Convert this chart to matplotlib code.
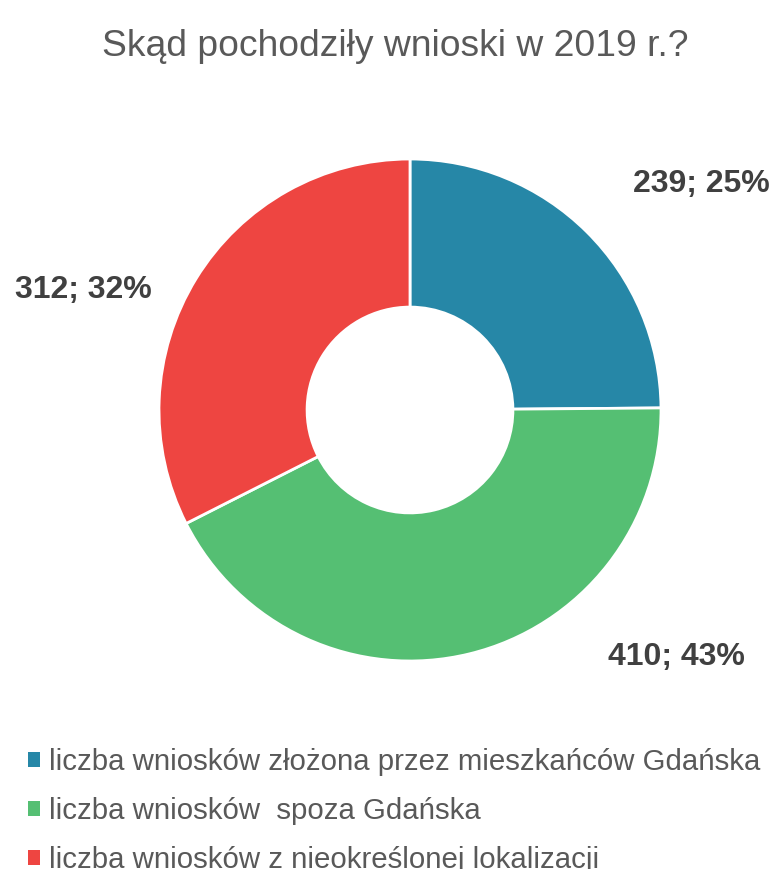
import matplotlib
matplotlib.use("Agg")
import matplotlib.pyplot as plt

plt.rcParams['font.family'] = ['Liberation Sans', 'DejaVu Sans']

title = "Skąd pochodziły wnioski w 2019 r.?"
categories = [
    "liczba wniosków złożona przez mieszkańców Gdańska",
    "liczba wniosków  spoza Gdańska",
    "liczba wniosków z nieokreślonej lokalizacji",
]
values = [239, 410, 312]
percents = [25, 43, 32]
colors = ["#2687A7", "#55BF73", "#EE4541"]
# label positions in data units of the pie axes (layout)
label_pos = [(1.16, 0.90), (1.06, -0.985), (-1.30, 0.48)]

W, H = 774, 869
fig = plt.figure(figsize=(W / 100, H / 100), dpi=100)

cx, cy, R = 410, 410, 251
ax = fig.add_axes([(cx - R) / W, (H - cy - R) / H, 2 * R / W, 2 * R / H])
wedges, _ = ax.pie(values, colors=colors, startangle=90, counterclock=False,
                   radius=1.0,
                   wedgeprops=dict(width=0.59, edgecolor='white', linewidth=2))
ax.set_xlim(-1, 1)
ax.set_ylim(-1, 1)
ax.set_aspect('equal')
ax.axis('off')

for v, p, (x, y) in zip(values, percents, label_pos):
    ax.text(x, y, f"{v}; {p}%", ha='center', va='center', fontsize=23,
            fontweight='bold', color='#404040', clip_on=False)

fig.text(395 / W, 1 - 46 / H, title, ha='center', va='center', fontsize=26.8,
         color='#595959')

leg = fig.legend(wedges, categories, loc='upper left',
                 bbox_to_anchor=(28 / W, 1 - 748 / H), frameon=False,
                 fontsize=21.2, handlelength=0.4, handleheight=0.4,
                 handletextpad=0.3, labelspacing=0.72, borderaxespad=0,
                 borderpad=0)
for t in leg.get_texts():
    t.set_color('#595959')
for h in leg.legend_handles:
    h.set_edgecolor('none')

fig.savefig("out.png", dpi=100)
